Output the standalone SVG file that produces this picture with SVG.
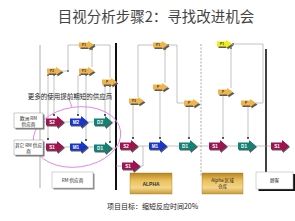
<svg xmlns="http://www.w3.org/2000/svg" xmlns:xlink="http://www.w3.org/1999/xlink" width="295" height="221" viewBox="0 0 295 221">
<style>
.t{font-family:"Liberation Sans","Noto Sans CJK SC",sans-serif}
.cjk{font-family:"Noto Sans CJK SC","Liberation Sans",sans-serif}
.ln{fill:none;stroke:#9a9a9a;stroke-width:0.6}
.dot{fill:#111}
.s{fill:#9c1450}
.m{fill:#1a36c4}
.d{fill:#128274}
.p{fill:#f0b44a}
.py{fill:#f0ee10}
.sh{fill:#5a5a5a}
.bt{fill:#fff;font-weight:bold;font-size:4.6px;text-anchor:middle}
.pt{fill:#333;font-weight:bold;font-size:3.2px;text-anchor:middle}
.lbl{fill:#222;font-size:4.6px;text-anchor:middle}
</style>
<defs>
<path id="big" d="M0,2.5 H11 V0 L18,6 L11,12 V9.5 H0 Z"/>
<path id="pa" d="M0,1.5 H9 V0 L15,4 L9,8 V6.5 H0 Z"/>
<linearGradient id="gold" x1="0" y1="0" x2="0" y2="1">
<stop offset="0" stop-color="#b88420"/>
<stop offset="0.35" stop-color="#e8bf5a"/>
<stop offset="0.7" stop-color="#f3d68a"/>
<stop offset="1" stop-color="#c99a38"/>
</linearGradient>
</defs>

<text class="cjk" x="156" y="22" font-size="14.5" fill="#444" text-anchor="middle">目视分析步骤2：寻找改进机会</text>

<g id="frame">
<line x1="40" y1="45" x2="40" y2="188" stroke="#9a9a9a" stroke-width="0.8"/>
<line x1="116" y1="43" x2="116" y2="190" stroke="#111" stroke-width="2"/>
<line x1="201" y1="44" x2="201" y2="176" stroke="#888" stroke-width="0.7" stroke-dasharray="2,1.5"/>
<line x1="266" y1="49" x2="266" y2="172" stroke="#111" stroke-width="1.6"/>
</g>

<g id="connectors">
<path class="ln" d="M62,71 H68 V45 H79"/>
<path class="ln" d="M94,45 H110 V78"/>
<path class="ln" d="M92,49 V67"/>
<path class="ln" d="M48,75 V139 M54,75 V115 M78,75 V115 M86,75 V140 M105,86 V115 M110,86 V142"/>
<path class="ln" d="M43,122 H46 M64,122 H70 M88,122 H94 M112,122 H116"/>
<path class="ln" d="M43,147 H46 M64,147 H70 M88,147 H94 M112,148 H116"/>
<path class="ln" d="M153,45 H138 V97"/>
<path class="ln" d="M168,45 H177 V103 H184"/>
<path class="ln" d="M165,49 V83"/>
<path class="ln" d="M133,105 V138 M160,91 V138 M189,107 V138"/>
<path class="ln" d="M233,44 H263 V103 H256"/>
<path class="ln" d="M231,48 V88"/>
<path class="ln" d="M223,96 V138 M248,107 V138"/>
<path class="ln" d="M116,146 H120 M116,166 H122 M140,166 H143 V146 M138,146 H149 M167,146 H179 M197,146 H209 M227,146 H238 M256,146 H271"/>
<path d="M69,99 L72,107" fill="none" stroke="#e080e8" stroke-width="0.9"/>
<g class="dot">
<circle cx="48" cy="139" r="0.9"/><circle cx="54" cy="115" r="0.9"/><circle cx="78" cy="115" r="0.9"/><circle cx="86" cy="140" r="0.9"/><circle cx="105" cy="115" r="0.9"/><circle cx="110" cy="142" r="0.9"/>
<circle cx="48" cy="75" r="0.8"/><circle cx="54" cy="75" r="0.8"/><circle cx="80" cy="75" r="0.8"/><circle cx="86" cy="75" r="0.8"/><circle cx="105" cy="86" r="0.8"/><circle cx="110" cy="86" r="0.8"/>
<circle cx="133" cy="138" r="0.9"/><circle cx="160" cy="138" r="0.9"/><circle cx="189" cy="138" r="0.9"/><circle cx="223" cy="138" r="0.9"/><circle cx="248" cy="138" r="0.9"/>
<circle cx="68" cy="71" r="0.8"/><circle cx="92" cy="49" r="0.8"/><circle cx="165" cy="49" r="0.8"/><circle cx="231" cy="48" r="0.8"/><circle cx="94" cy="45" r="0.8"/><circle cx="168" cy="45" r="0.8"/><circle cx="233" cy="44" r="0.8"/>
</g>
</g>

<ellipse cx="77" cy="137" rx="44" ry="30" transform="rotate(-8 77 137)" fill="none" stroke="#e080e8" stroke-width="0.9"/>

<text class="cjk" x="70" y="98.5" font-size="6.5" fill="#222" text-anchor="middle">更多的使用提前期短的供应商</text>

<!-- P nodes -->
<g id="pL1"><use href="#pa" x="80.5" y="42.5" class="sh"/><use href="#pa" x="79" y="41" class="p"/><text class="pt t" x="84" y="46.3">P1</text></g>
<g id="pL2"><use href="#pa" x="48.5" y="68.5" class="sh"/><use href="#pa" x="47" y="67" class="p"/><text class="pt t" x="52" y="72.3">P2</text></g>
<g id="pL3"><use href="#pa" x="80.5" y="68.5" class="sh"/><use href="#pa" x="79" y="67" class="p"/><text class="pt t" x="84" y="72.3">P3</text></g>
<g id="pL4"><use href="#pa" x="103.5" y="79.5" class="sh"/><use href="#pa" x="102" y="78" class="p"/><text class="pt t" x="107" y="83.3">P</text></g>
<g id="pM1"><use href="#pa" x="154.5" y="42.5" class="sh"/><use href="#pa" x="153" y="41" class="p"/><text class="pt t" x="158" y="46.3">P1</text></g>
<g id="pM2"><use href="#pa" x="154.5" y="84.5" class="sh"/><use href="#pa" x="153" y="83" class="p"/><text class="pt t" x="158" y="88.3">P</text></g>
<g id="pM3"><use href="#pa" x="130.5" y="98.5" class="sh"/><use href="#pa" x="129" y="97" class="p"/><text class="pt t" x="134" y="102.3">P2</text></g>
<g id="pM4"><use href="#pa" x="185.5" y="100.5" class="sh"/><use href="#pa" x="184" y="99" class="p"/><text class="pt t" x="189" y="104.3">P</text></g>
<g id="pR1"><use href="#pa" x="218.5" y="41.5" class="sh"/><use href="#pa" x="217" y="40" class="py"/><text class="pt t" x="222" y="45.3">P1</text></g>
<g id="pR2"><use href="#pa" x="219.5" y="89.5" class="sh"/><use href="#pa" x="218" y="88" class="p"/><text class="pt t" x="223" y="93.3">P</text></g>
<g id="pR3"><use href="#pa" x="242.5" y="100.5" class="sh"/><use href="#pa" x="241" y="99" class="p"/><text class="pt t" x="246" y="104.3">P</text></g>

<!-- process arrows -->
<g id="uS2"><use href="#big" x="47" y="117" class="sh"/><use href="#big" x="46" y="116" class="s"/><text class="bt t" x="52" y="123.7">S2</text></g>
<g id="uM2"><use href="#big" x="71" y="117" class="sh"/><use href="#big" x="70" y="116" class="m"/><text class="bt t" x="76" y="123.7">M2</text></g>
<g id="uD2"><use href="#big" x="95" y="117" class="sh"/><use href="#big" x="94" y="116" class="d"/><text class="bt t" x="100" y="123.7">D2</text></g>
<g id="lS1"><use href="#big" x="47" y="142" class="sh"/><use href="#big" x="46" y="141" class="s"/><text class="bt t" x="52" y="148.7">S1</text></g>
<g id="lM1"><use href="#big" x="71" y="142" class="sh"/><use href="#big" x="70" y="141" class="m"/><text class="bt t" x="76" y="148.7">M1</text></g>
<g id="lD1"><use href="#big" x="95" y="143" class="sh"/><use href="#big" x="94" y="142" class="d"/><text class="bt t" x="100" y="149.7">D1</text></g>
<g id="mS2"><use href="#big" x="121" y="141" class="sh"/><use href="#big" x="120" y="140" class="s"/><text class="bt t" x="126" y="147.7">S2</text></g>
<g id="mS1"><use href="#big" x="123" y="161" class="sh"/><use href="#big" x="122" y="160" class="s"/><text class="bt t" x="128" y="167.7">S1</text></g>
<g id="mM1"><use href="#big" x="150" y="141" class="sh"/><use href="#big" x="149" y="140" class="m"/><text class="bt t" x="155" y="147.7">M1</text></g>
<g id="mD1"><use href="#big" x="180" y="141" class="sh"/><use href="#big" x="179" y="140" class="d"/><text class="bt t" x="185" y="147.7">D1</text></g>
<g id="rS1"><use href="#big" x="210" y="141" class="sh"/><use href="#big" x="209" y="140" class="s"/><text class="bt t" x="215" y="147.7">S1</text></g>
<g id="rD1"><use href="#big" x="239" y="141" class="sh"/><use href="#big" x="238" y="140" class="d"/><text class="bt t" x="244" y="147.7">D1</text></g>
<g id="cS1"><use href="#big" x="272" y="141" class="sh"/><use href="#big" x="271" y="140" class="s"/><text class="bt t" x="277" y="147.7">S1</text></g>

<!-- boxes -->
<g id="euSupplier"><rect x="15.5" y="114.5" width="29" height="15" fill="#777"/><rect x="14" y="113" width="29" height="15" fill="#fff" stroke="#999" stroke-width="0.5"/><text class="lbl cjk" x="28.5" y="119.5">欧洲 RM</text><text class="lbl cjk" x="28.5" y="125.5">供应商</text></g>
<g id="otherSupplier"><rect x="15.5" y="141.5" width="29" height="15" fill="#777"/><rect x="14" y="140" width="29" height="15" fill="#fff" stroke="#999" stroke-width="0.5"/><text class="lbl cjk" x="28.5" y="146.5">其它 RM 供应</text><text class="lbl cjk" x="28.5" y="152.5">商</text></g>
<g id="rmSupplier"><rect x="53.5" y="173.5" width="41" height="16" fill="#888"/><rect x="52" y="172" width="41" height="16" fill="#fff" stroke="#aaa" stroke-width="0.5"/><text class="lbl cjk" x="72.5" y="181.8">RM 供应商</text></g>
<g id="alpha"><rect x="130" y="173" width="42" height="21" fill="url(#gold)" stroke="#a07820" stroke-width="0.4"/><text class="t" x="151" y="185.5" font-size="5" font-weight="bold" fill="#333" text-anchor="middle">ALPHA</text></g>
<g id="warehouse"><rect x="202" y="173" width="41" height="21" fill="url(#gold)" stroke="#a07820" stroke-width="0.4"/><text class="lbl cjk" x="222.5" y="181.5" fill="#333">Alpha 区域</text><text class="lbl cjk" x="222.5" y="188" fill="#333">仓库</text></g>
<g id="customer"><rect x="258.5" y="174" width="37" height="17" fill="#111"/><rect x="256" y="172" width="37" height="17" fill="#fff" stroke="#aaa" stroke-width="0.5"/><text class="lbl cjk" x="274.5" y="182">顾客</text></g>

<text class="cjk" x="152.5" y="208.5" font-size="7" fill="#222" text-anchor="middle">项目目标：缩短反应时间20%</text>
</svg>
